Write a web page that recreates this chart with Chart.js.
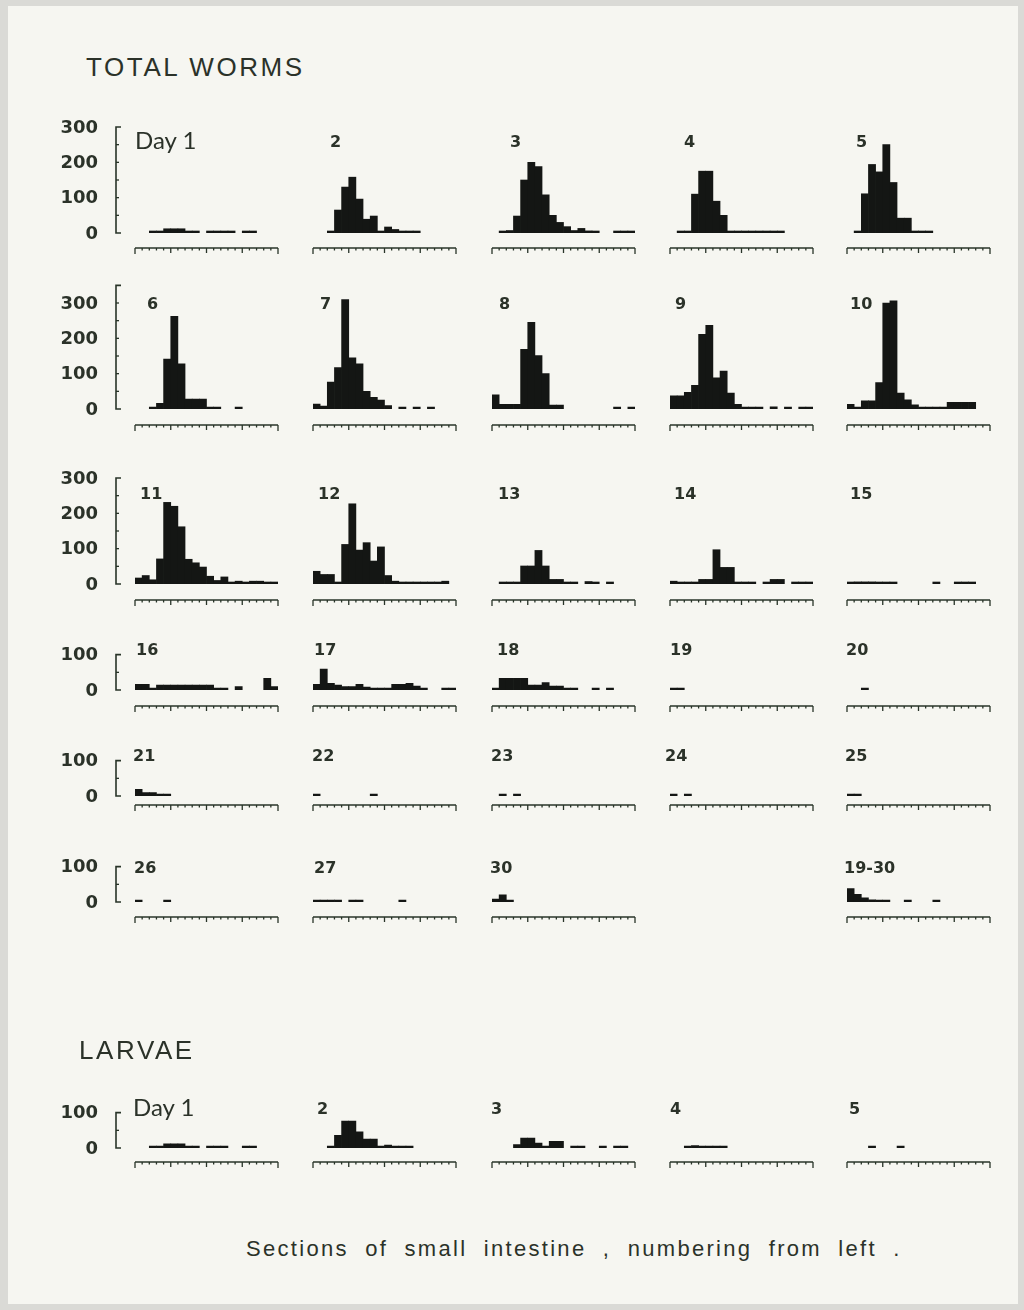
<!DOCTYPE html>
<html>
<head>
<meta charset="utf-8">
<script src="https://cdn.jsdelivr.net/npm/chart.js@4.4.0/dist/chart.umd.min.js"></script>
<style>
  html, body { margin: 0; padding: 0; }
  body { width: 1024px; height: 1310px; background: #dadad6; position: relative; overflow: hidden; }
  #sheet { position: absolute; left: 8px; top: 6px; width: 1010px; height: 1298px; background: #f6f6f1; }
  .t { position: absolute; color: #2b3229; white-space: nowrap; }
  .head { font-family: 'Liberation Sans', sans-serif; font-size: 26px; letter-spacing: 2.6px; }
  .num { font-family: 'DejaVu Sans', sans-serif; font-weight: bold; font-size: 16px; }
  .day { font-family: 'Lato', 'Liberation Sans', sans-serif; font-size: 24px; }
  .cap { font-family: 'Liberation Sans', sans-serif; font-size: 22px; letter-spacing: 2.3px; word-spacing: 8px; }
  canvas { position: absolute; }
</style>
</head>
<body>
<div id="sheet"></div>
<script>
// Worm counts per section of small intestine (20 sections, numbered from the left).
// null = no worms found in that section.
const N = null;
const sections = ['1','2','3','4','5','6','7','8','9','10','11','12','13','14','15','16','17','18','19','20'];

const day1  = [N, N, 2, 2, 12, 12, 12, 2, 2, N, 2, 2, 2, 2, N, 2, 2, N, N, N];
const day2  = [N, N, 5, 65, 130, 158, 96, 39, 48, 2, 17, 10, 2, 2, 2, N, N, N, N, N];
const day3  = [N, 2, 7, 48, 150, 200, 188, 108, 50, 30, 18, 7, 13, 6, 2, N, N, 2, 2, 2];
const day4  = [N, 3, 3, 110, 175, 175, 90, 50, 5, 5, 5, 5, 5, 2, 2, 2, N, N, N, N];
const day5  = [N, 3, 111, 194, 173, 250, 143, 42, 42, 2, 2, 2, N, N, N, N, N, N, N, N];
const day6  = [N, N, 2, 16, 141, 262, 128, 28, 28, 28, 3, 3, N, N, 2, N, N, N, N, N];
const day7  = [14, 8, 76, 117, 310, 145, 128, 50, 33, 25, 10, N, 2, N, 2, N, 2, N, N, N];
const day8  = [40, 13, 13, 13, 169, 245, 151, 100, 11, 11, N, N, N, N, N, N, N, 2, N, 2];
const day9  = [37, 37, 47, 67, 211, 237, 88, 107, 45, 13, 3, 3, 3, N, 6, N, 2, N, 2, 2];
const day10 = [13, 2, 23, 23, 75, 300, 306, 45, 26, 12, 2, 2, 2, 2, 19, 19, 19, 19, N, N];
const day11 = [17, 24, 12, 71, 231, 220, 162, 70, 60, 48, 22, 10, 20, 2, 8, 2, 8, 8, 2, 2];
const day12 = [36, 27, 27, 2, 112, 227, 96, 117, 65, 105, 24, 8, 2, 5, 5, 5, 2, 2, 8, N];
const day13 = [N, 2, 2, 2, 51, 51, 95, 51, 13, 13, 2, 2, N, 7, 2, N, 2, N, N, N];
const day14 = [8, 2, 2, 2, 13, 13, 97, 47, 47, 2, 2, 2, N, 2, 13, 13, N, 2, 2, 2];
const day15 = [2, 6, 6, 6, 2, 2, 2, N, N, N, N, N, 2, N, N, 2, 2, 2, N, N];
const day16 = [16, 16, 2, 14, 14, 14, 14, 14, 14, 14, 14, 2, 2, N, 10, N, N, N, 33, 10];
const day17 = [16, 59, 19, 14, 10, 10, 16, 8, 2, 2, 2, 16, 16, 19, 11, 2, N, N, 2, 2];
const day18 = [2, 33, 33, 33, 33, 14, 14, 21, 11, 11, 2, 2, N, N, 2, N, 2, N, N, N];
const day19 = [2, 2, N, N, N, N, N, N, N, N, N, N, N, N, N, N, N, N, N, N];
const day20 = [N, N, 2, N, N, N, N, N, N, N, N, N, N, N, N, N, N, N, N, N];
const day21 = [19, 10, 10, 2, 2, N, N, N, N, N, N, N, N, N, N, N, N, N, N, N];
const day22 = [2, N, N, N, N, N, N, N, 2, N, N, N, N, N, N, N, N, N, N, N];
const day23 = [N, 2, N, 2, N, N, N, N, N, N, N, N, N, N, N, N, N, N, N, N];
const day24 = [2, N, 2, N, N, N, N, N, N, N, N, N, N, N, N, N, N, N, N, N];
const day25 = [2, 2, N, N, N, N, N, N, N, N, N, N, N, N, N, N, N, N, N, N];
const day26 = [2, N, N, N, 2, N, N, N, N, N, N, N, N, N, N, N, N, N, N, N];
const day27 = [2, 2, 2, 2, N, 2, 2, N, N, N, N, N, 2, N, N, N, N, N, N, N];
const day30 = [8, 20, 4, N, N, N, N, N, N, N, N, N, N, N, N, N, N, N, N, N];
const days19to30 = [38, 22, 12, 6, 2, 2, N, N, 2, N, N, N, 2, N, N, N, N, N, N, N];

const larvae1 = [N, N, 2, 2, 12, 12, 12, 2, 2, N, 2, 2, 2, N, N, 2, 2, N, N, N];
const larvae2 = [N, N, 3, 36, 76, 76, 46, 25, 25, 2, 8, 2, 2, 2, N, N, N, N, N, N];
const larvae3 = [N, N, N, 10, 28, 28, 14, 2, 19, 19, N, 2, 2, N, N, 2, N, 2, 2, N];
const larvae4 = [N, N, 2, 7, 2, 2, 2, 2, N, N, N, N, N, N, N, N, N, N, N, N];
const larvae5 = [N, N, N, 2, N, N, N, 2, N, N, N, N, N, N, N, N, N, N, N, N];

// Count axis labels
const ticksTall  = [0, 100, 200, 300];
const ticksShort = [0, 100];

// ---- layout ----
const K = 106 / 300;                       // px per worm
const colLeft = [135, 313, 492, 670, 847];
const rulerW = 143;
const rows = [
  { base: 233,  ruler: 248,  max: 300, ticks: ticksTall,  titleY: 142 },
  { base: 409,  ruler: 425,  max: 350, ticks: ticksTall,  titleY: 304 },
  { base: 584,  ruler: 600,  max: 300, ticks: ticksTall,  titleY: 494 },
  { base: 690,  ruler: 706,  max: 100, ticks: ticksShort, titleY: 650 },
  { base: 796,  ruler: 805,  max: 100, ticks: ticksShort, titleY: 756 },
  { base: 902,  ruler: 917,  max: 100, ticks: ticksShort, titleY: 868 },
  { base: 1148, ruler: 1162, max: 100, ticks: ticksShort, titleY: 1109 }
];

const panels = [
  { name: 'Day 1', data: day1,  row: 0, col: 0, tx: 135, day: true },
  { name: '2',  data: day2,  row: 0, col: 1, tx: 330 },
  { name: '3',  data: day3,  row: 0, col: 2, tx: 510 },
  { name: '4',  data: day4,  row: 0, col: 3, tx: 684 },
  { name: '5',  data: day5,  row: 0, col: 4, tx: 856 },
  { name: '6',  data: day6,  row: 1, col: 0, tx: 147 },
  { name: '7',  data: day7,  row: 1, col: 1, tx: 320 },
  { name: '8',  data: day8,  row: 1, col: 2, tx: 499 },
  { name: '9',  data: day9,  row: 1, col: 3, tx: 675 },
  { name: '10', data: day10, row: 1, col: 4, tx: 850 },
  { name: '11', data: day11, row: 2, col: 0, tx: 140 },
  { name: '12', data: day12, row: 2, col: 1, tx: 318 },
  { name: '13', data: day13, row: 2, col: 2, tx: 498 },
  { name: '14', data: day14, row: 2, col: 3, tx: 674 },
  { name: '15', data: day15, row: 2, col: 4, tx: 850 },
  { name: '16', data: day16, row: 3, col: 0, tx: 136 },
  { name: '17', data: day17, row: 3, col: 1, tx: 314 },
  { name: '18', data: day18, row: 3, col: 2, tx: 497 },
  { name: '19', data: day19, row: 3, col: 3, tx: 670 },
  { name: '20', data: day20, row: 3, col: 4, tx: 846 },
  { name: '21', data: day21, row: 4, col: 0, tx: 133 },
  { name: '22', data: day22, row: 4, col: 1, tx: 312 },
  { name: '23', data: day23, row: 4, col: 2, tx: 491 },
  { name: '24', data: day24, row: 4, col: 3, tx: 665 },
  { name: '25', data: day25, row: 4, col: 4, tx: 845 },
  { name: '26', data: day26, row: 5, col: 0, tx: 134 },
  { name: '27', data: day27, row: 5, col: 1, tx: 314 },
  { name: '30', data: day30, row: 5, col: 2, tx: 490 },
  { name: '19-30', data: days19to30, row: 5, col: 4, tx: 844 },
  { name: 'Day 1', data: larvae1, row: 6, col: 0, tx: 133, day: true },
  { name: '2',  data: larvae2, row: 6, col: 1, tx: 317 },
  { name: '3',  data: larvae3, row: 6, col: 2, tx: 491 },
  { name: '4',  data: larvae4, row: 6, col: 3, tx: 670 },
  { name: '5',  data: larvae5, row: 6, col: 4, tx: 849 }
];

const INK = '#141614';
const AXIS = '#283428';

function addText(txt, cls, x, cy, h) {
  const d = document.createElement('div');
  d.className = 't ' + cls;
  d.textContent = txt;
  d.style.left = x + 'px';
  d.style.top = (cy - h / 2) + 'px';
  d.style.lineHeight = h + 'px';
  document.body.appendChild(d);
}

// Section ruler under each histogram, built on the x scale
const rulerPlugin = {
  id: 'ruler',
  afterDraw(chart, args, opts) {
    const x = chart.scales.x;
    const n = chart.data.labels.length;
    const w = x.getPixelForValue(1) - x.getPixelForValue(0);
    const x0 = x.getPixelForValue(0) - w / 2;
    const y = chart.chartArea.bottom + opts.gap;
    const ctx = chart.ctx;
    ctx.save();
    ctx.strokeStyle = AXIS;
    ctx.lineWidth = 1.6;
    ctx.beginPath();
    ctx.moveTo(x0, y);
    ctx.lineTo(x0 + n * w, y);
    ctx.stroke();
    ctx.lineWidth = 1.3;
    for (let i = 0; i <= n; i++) {
      const px = x0 + i * w;
      const len = (i === 0 || i === n) ? 6 : (i % 5 === 0 ? 5 : 2.5);
      ctx.beginPath();
      ctx.moveTo(px, y);
      ctx.lineTo(px, y + len);
      ctx.stroke();
    }
    ctx.restore();
  }
};

// Count bracket with labels, built on the y scale (first column only)
const bracketPlugin = {
  id: 'bracket',
  afterDraw(chart, args, opts) {
    if (!opts.show) return;
    const yS = chart.scales.y;
    const ctx = chart.ctx;
    const ax = opts.axisX;
    const top = yS.getPixelForValue(yS.max);
    const bot = yS.getPixelForValue(0);
    ctx.save();
    ctx.strokeStyle = AXIS;
    ctx.lineWidth = 1.6;
    ctx.beginPath();
    ctx.moveTo(ax + 5, top);
    ctx.lineTo(ax, top);
    ctx.lineTo(ax, bot);
    ctx.lineTo(ax + 5, bot);
    ctx.stroke();
    ctx.lineWidth = 1.3;
    for (let v = 50; v < yS.max; v += 50) {
      const py = yS.getPixelForValue(v);
      ctx.beginPath();
      ctx.moveTo(ax, py);
      ctx.lineTo(ax + 3, py);
      ctx.stroke();
    }
    ctx.fillStyle = '#2b3229';
    ctx.font = 'bold 18px "DejaVu Sans", sans-serif';
    ctx.textAlign = 'right';
    ctx.textBaseline = 'middle';
    opts.labels.forEach(v => {
      ctx.fillText(String(v), opts.labelX, yS.getPixelForValue(v) + 1);
    });
    ctx.restore();
  }
};

panels.forEach(p => {
  const r = rows[p.row];
  const left = colLeft[p.col];
  const padL = p.col === 0 ? left - 40 : 6;
  const padR = 6;
  const cLeft = left - padL;
  const cW = padL + rulerW + padR;
  const areaTop = r.base - r.max * K;
  const cTop = Math.floor(areaTop) - 8;
  const cH = r.ruler + 12 - cTop;
  const padT = areaTop - cTop;
  const padB = cH - (r.base - cTop);

  const cv = document.createElement('canvas');
  cv.width = cW; cv.height = cH;
  cv.style.left = cLeft + 'px';
  cv.style.top = cTop + 'px';
  cv.style.width = cW + 'px';
  cv.style.height = cH + 'px';
  document.body.appendChild(cv);

  new Chart(cv, {
    type: 'bar',
    data: {
      labels: sections,
      datasets: [{
        data: p.data,
        backgroundColor: INK,
        borderWidth: 0,
        barPercentage: 1,
        categoryPercentage: 1,
        minBarLength: 2
      }]
    },
    options: {
      responsive: false,
      animation: false,
      events: [],
      layout: { padding: { left: padL, right: padR, top: padT, bottom: padB } },
      plugins: {
        legend: { display: false },
        tooltip: { enabled: false },
        title: { display: false },
        ruler: { gap: r.ruler - r.base },
        bracket: { show: p.col === 0, axisX: 116 - cLeft, labelX: 98 - cLeft, labels: r.ticks }
      },
      scales: {
        x: { display: false },
        y: { display: false, min: 0, max: r.max }
      }
    },
    plugins: [rulerPlugin, bracketPlugin]
  });

  if (p.day) addText(p.name, 'day', p.tx, r.titleY - 2, 28);
  else addText(p.name, 'num', p.tx, r.titleY, 20);
});

addText('TOTAL WORMS', 'head', 86, 67, 32);
addText('LARVAE', 'head', 79, 1050, 32);
addText('Sections of small intestine , numbering from left .', 'cap', 246, 1249, 30);
</script>
</body>
</html>
